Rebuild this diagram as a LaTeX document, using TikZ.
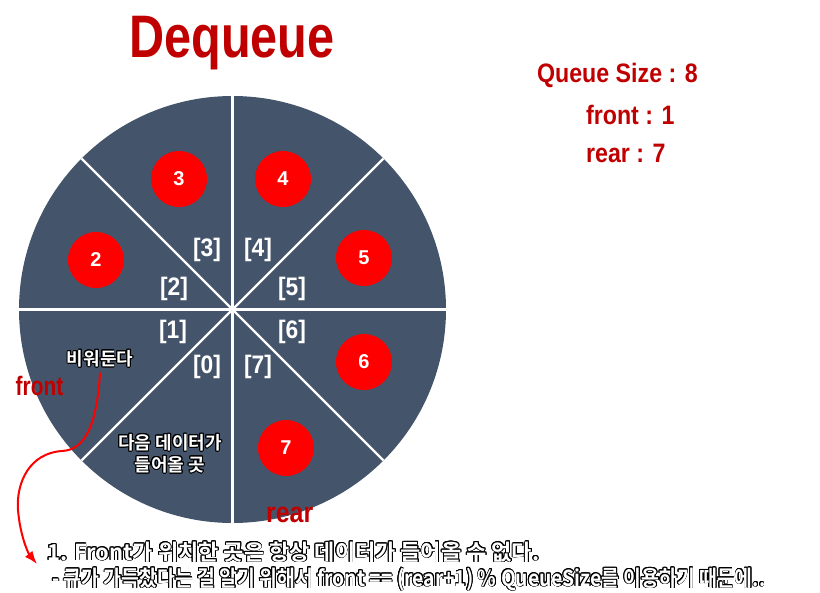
\documentclass[tikz,border=0pt]{standalone}
\usepackage{fontspec}
\setmainfont{Liberation Sans}
\newfontfamily\krfont[BoldFont={Noto Sans CJK KR Bold}]{Noto Sans CJK KR}
\usepackage[copies]{contour}
\contourlength{0.7pt}
\usepackage{xcolor}
\usetikzlibrary{arrows.meta,positioning}

\definecolor{slate}{HTML}{44546A}
\definecolor{darkred}{HTML}{C00000}

\begin{document}
\begin{tikzpicture}[
    x=0.75pt,
    y=-0.75pt,
    >=Latex,
    slot/.style={circle,fill=red,minimum size=42pt,inner sep=0pt,
        text=white,font=\bfseries\fontsize{15}{17}\selectfont},
    idx/.style={text=white,xscale=0.9,font=\bfseries\fontsize{19}{21}\selectfont},
    redlbl/.style={text=darkred,xscale=0.87,font=\bfseries\fontsize{20}{22}\selectfont},
    krlbl/.style={text=white,align=center,
        font=\krfont\bfseries\fontsize{13.5}{16.5}\selectfont},
    note/.style={text=white,anchor=base west,inner sep=0pt,
        font=\krfont\bfseries\fontsize{16.5}{19}\selectfont}
]

\useasboundingbox (0,0) rectangle (820,592);

% ---------------------------------------------------------
% Title and status
% ---------------------------------------------------------

\node[text=darkred,anchor=base,xscale=0.81,
    font=\bfseries\fontsize{45}{50}\selectfont]
    (title) at (232,58) {Dequeue};

\node[redlbl,anchor=base west] (qsize) at (533,83) {Queue Size : 8};
\node[redlbl,anchor=base west] (qfront) at (582,124) {front : 1};
\node[redlbl,anchor=base west] (qrear) at (582,162) {rear : 7};

% ---------------------------------------------------------
% Ring buffer
% ---------------------------------------------------------

\coordinate (c) at (232.5,309.5);

\fill[slate] (c) circle[radius=213.5];

\foreach \ang in {0,45,...,315}{
    \draw[white,line width=1.6pt] (c) -- ++(\ang:213.5);
}

% filled slots
\foreach \num/\px/\py in {
    2/96/260,
    3/179/179,
    4/283/179,
    5/364/258,
    6/364/362,
    7/286/448
}{
    \node[slot] (slot\num) at (\px,\py) {\num};
}

% array indices
\foreach \num/\px/\py in {
    0/207/367,
    1/173/332,
    2/174/289,
    3/207/250,
    4/258/250,
    5/292/289,
    6/292/332,
    7/258/367
}{
    \node[idx] (idx\num) at (\px,\py) {[\num]};
}

\node[krlbl] (empty) at (100,359) {\contour{black}{비워둔다}};

\node[krlbl] (next) at (170,454)
    {\contour{black}{다음 데이터가}\\\contour{black}{들어올 곳}};

% ---------------------------------------------------------
% Pointers
% ---------------------------------------------------------

\node[redlbl,anchor=base west,xscale=0.9] (front) at (12,395) {front};

\node[redlbl,anchor=base west,font=\bfseries\fontsize{21.5}{24}\selectfont]
    (rear) at (262,522) {rear};

% ---------------------------------------------------------
% Note
% ---------------------------------------------------------

\node[note] (note1) at (47,560)
    {\contour{black}{1. Front가 위치한 곳은 항상 데이터가 들어올 수 없다.}};

\node[note,xscale=0.88] (note2) at (52,586)
    {\contour{black}{- 큐가 가득찼다는 걸 알기 위해서 front == (rear+1) \% QueueSize를 이용하기 때문에..}};

\coordinate (tip) at (37,564);

\draw[->,red,line width=1.5pt]
    (empty.south)
    .. controls (97,425) and (85,450) .. (62,451)
    .. controls (30,453) and (16,482) .. (18,510)
    .. controls (20,535) and (28,553) .. (tip);

\end{tikzpicture}
\end{document}
